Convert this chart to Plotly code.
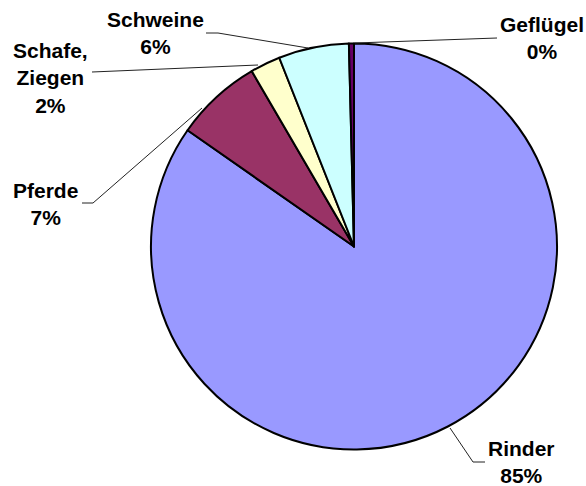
import plotly.graph_objects as go

W, H = 586, 486

# ---- data ----
categories = ["Rinder", "Pferde", "Schafe, Ziegen", "Schweine", "Geflügel"]
display_labels = ["Rinder", "Pferde", "Schafe,<br>Ziegen", "Schweine", "Geflügel"]
values = [84.7, 6.9, 2.4, 5.6, 0.4]
colors = ["#9999FF", "#993366", "#FFFFCC", "#CCFFFF", "#660066"]

# ---- layout positions (pixels, y from top) ----
label_pos = [(521, 462), (45, 204), (50, 78), (155, 33), (542, 38)]
leaders = [
    [(450, 428), (473, 462), (485, 462)],
    [(82, 203), (93, 203), (202, 108)],
    [(92, 72), (258, 65)],
    [(206, 33), (218, 33), (308, 48)],
    [(355, 43), (497, 38)],
]

cx, cy, r = 354, 246.5, 203

fig = go.Figure(go.Pie(
    labels=categories,
    values=values,
    sort=False,
    direction="clockwise",
    rotation=0,
    textinfo="none",
    marker=dict(colors=colors, line=dict(color="black", width=2)),
    domain=dict(x=[(cx - r) / W, (cx + r) / W], y=[1 - (cy + r) / H, 1 - (cy - r) / H]),
    showlegend=False,
    hoverinfo="label+percent",
))

total = sum(values)
annotations = []
for lab, v, (px, py) in zip(display_labels, values, label_pos):
    pct = v / total * 100
    annotations.append(dict(
        x=px / W, y=1 - py / H, xref="paper", yref="paper",
        text=f"{lab}<br>{pct:.0f}%", showarrow=False,
        xanchor="center", yanchor="middle", align="center",
        font=dict(family="Liberation Sans, Arial, sans-serif", size=21, color="black", weight="bold"),
    ))

shapes = []
for pts in leaders:
    path = "M " + " L ".join(f"{x / W} {1 - y / H}" for x, y in pts)
    shapes.append(dict(type="path", path=path, xref="paper", yref="paper",
                       line=dict(color="#222222", width=1)))

fig.update_layout(
    width=W, height=H,
    margin=dict(l=0, r=0, t=0, b=0),
    paper_bgcolor="white", plot_bgcolor="white",
    annotations=annotations, shapes=shapes,
)

fig.write_html("out.html", config={"displayModeBar": False},
               post_script="document.body.style.margin='0';document.body.style.overflow='hidden';")
